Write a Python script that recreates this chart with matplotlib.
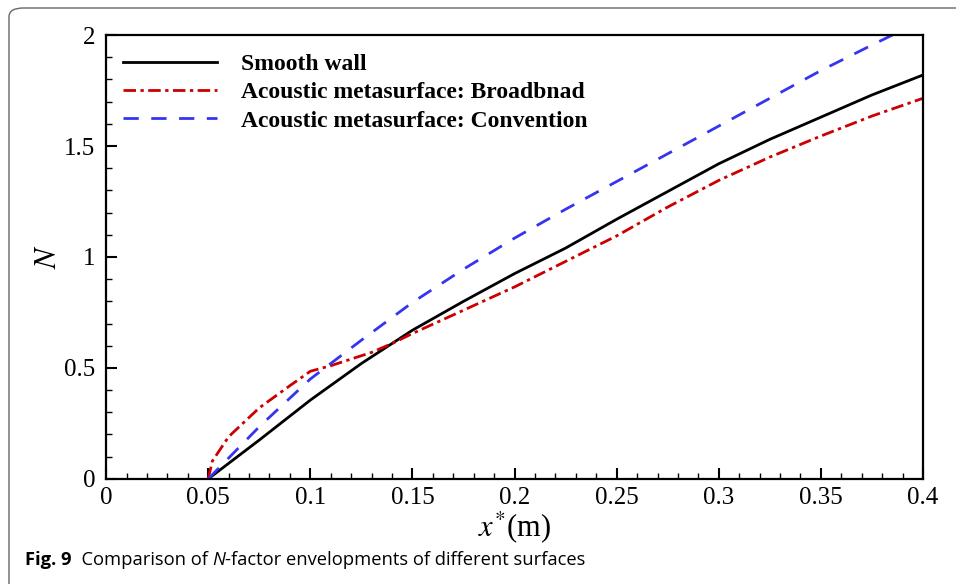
import matplotlib
matplotlib.use("Agg")
import matplotlib.pyplot as plt
from matplotlib.patches import FancyBboxPatch
from matplotlib.ticker import MultipleLocator

# smooth wall
x_smooth = [0.05, 0.075, 0.1, 0.125, 0.15, 0.175, 0.2, 0.225, 0.25, 0.275, 0.3, 0.325, 0.35, 0.375, 0.4]
n_smooth = [0, 0.175, 0.355, 0.52, 0.67, 0.80, 0.925, 1.04, 1.17, 1.295, 1.42, 1.53, 1.63, 1.73, 1.82]

# metasurface, broadband
x_broad = [0.05, 0.052, 0.06, 0.075, 0.09, 0.1, 0.11, 0.12, 0.13, 0.14, 0.15, 0.175, 0.2,
           0.225, 0.25, 0.275, 0.3, 0.325, 0.35, 0.375, 0.4]
n_broad = [0, 0.08, 0.19, 0.32, 0.42, 0.485, 0.51, 0.54, 0.57, 0.61, 0.655, 0.76, 0.865,
           0.98, 1.095, 1.225, 1.345, 1.45, 1.545, 1.635, 1.715]

# metasurface, conventional
x_conv = [0.05, 0.075, 0.1, 0.125, 0.15, 0.175, 0.2, 0.225, 0.25, 0.275, 0.3, 0.325, 0.35, 0.375, 0.385]
n_conv = [0, 0.235, 0.45, 0.625, 0.795, 0.945, 1.085, 1.215, 1.34, 1.465, 1.59, 1.715, 1.84, 1.955, 2.0]

labels = ["Smooth wall", "Acoustic metasurface: Broadbnad", "Acoustic metasurface: Convention"]
xticks = [0, 0.05, 0.1, 0.15, 0.2, 0.25, 0.3, 0.35, 0.4]
xtick_labels = ["0", "0.05", "0.1", "0.15", "0.2", "0.25", "0.3", "0.35", "0.4"]
yticks = [0, 0.5, 1, 1.5, 2]
ytick_labels = ["0", "0.5", "1", "1.5", "2"]

plt.rcParams['font.family'] = ['Liberation Serif', 'DejaVu Serif']
plt.rcParams['mathtext.fontset'] = 'stix'

fig = plt.figure(figsize=(9.56, 5.84), dpi=100)
ax = fig.add_axes([0.111, 0.180, 0.8545, 0.760])

ax.plot(x_smooth, n_smooth, color='black', lw=2.0, label=labels[0])
ax.plot(x_broad, n_broad, color='#cc0000', lw=2.0, dashes=(4.5, 1.6, 1.2, 1.6), label=labels[1])
ax.plot(x_conv, n_conv, color='#3535f0', lw=2.0, dashes=(5.5, 4.5), label=labels[2])

ax.set_xlim(0, 0.4)
ax.set_ylim(0, 2)
ax.set_xticks(xticks)
ax.set_xticklabels(xtick_labels)
ax.set_yticks(yticks)
ax.set_yticklabels(ytick_labels)
ax.xaxis.set_minor_locator(MultipleLocator(0.01))
ax.yaxis.set_minor_locator(MultipleLocator(0.1))
ax.tick_params(which='both', direction='in', labelsize=18, width=1.5)
ax.tick_params(which='major', length=8)
ax.tick_params(which='minor', length=4, width=1)
ax.tick_params(axis='x', pad=6)
ax.tick_params(axis='y', pad=8)
for s in ax.spines.values():
    s.set_linewidth(1.6)

ax.set_xlabel(r"$x^{*}$(m)", fontsize=22, labelpad=0)
ax.set_ylabel(r"$N$", fontsize=22)
ax.yaxis.set_label_coords(-0.053, 0.5)

leg = ax.legend(loc='upper left', frameon=False, prop={'weight': 'bold', 'size': 17},
                handlelength=4.0, handletextpad=1.0, labelspacing=0.28,
                borderaxespad=0.3, bbox_to_anchor=(0.0, 0.995))

# caption, pieced together so that N can be italic
renderer = fig.canvas.get_renderer()
cx, cy = 25, 0.033 * 584
pieces = [("Fig. 9", 'bold', 'normal'), ("  Comparison of ", 'normal', 'normal'),
          ("N", 'normal', 'italic'), ("-factor envelopments of different surfaces", 'normal', 'normal')]
for txt, wt, st in pieces:
    t = fig.text(cx / 956, cy / 584, txt, fontsize=13.2, fontweight=wt, fontstyle=st,
                 family='Open Sans')
    bb = t.get_window_extent(renderer=renderer)
    cx += bb.width

# rounded frame
frame = FancyBboxPatch((9 / 956, -0.05), 1.2, 1.05 - 8 / 584,
                       boxstyle="round,pad=0,rounding_size=0.015",
                       transform=fig.transFigure, fill=False, edgecolor='#666666', lw=1.0)
fig.patches.append(frame)

fig.savefig("out.png", dpi=100)
